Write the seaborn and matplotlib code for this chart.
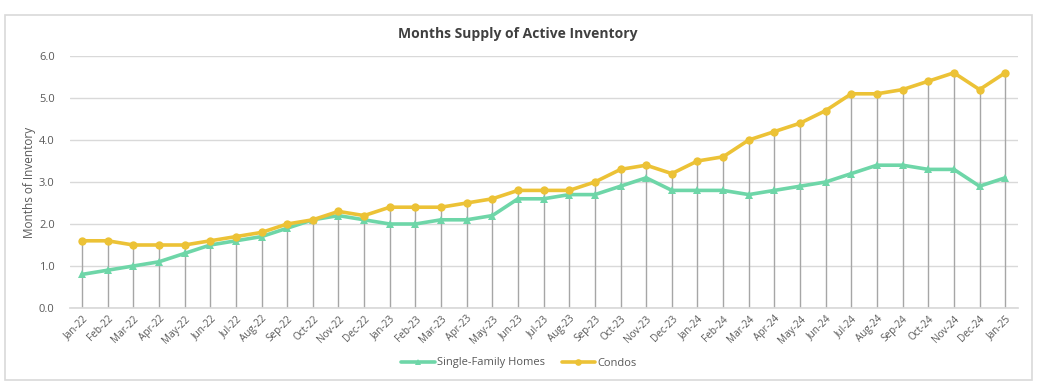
import matplotlib
matplotlib.use("Agg")
import matplotlib.pyplot as plt
import seaborn as sns
import pandas as pd
import numpy as np
from matplotlib.patches import Rectangle

months = ["Jan-22","Feb-22","Mar-22","Apr-22","May-22","Jun-22","Jul-22","Aug-22","Sep-22","Oct-22","Nov-22","Dec-22",
          "Jan-23","Feb-23","Mar-23","Apr-23","May-23","Jun-23","Jul-23","Aug-23","Sep-23","Oct-23","Nov-23","Dec-23",
          "Jan-24","Feb-24","Mar-24","Apr-24","May-24","Jun-24","Jul-24","Aug-24","Sep-24","Oct-24","Nov-24","Dec-24",
          "Jan-25"]
sfh = [0.8,0.9,1.0,1.1,1.3,1.5,1.6,1.7,1.9,2.1,2.2,2.1,
       2.0,2.0,2.1,2.1,2.2,2.6,2.6,2.7,2.7,2.9,3.1,2.8,
       2.8,2.8,2.7,2.8,2.9,3.0,3.2,3.4,3.4,3.3,3.3,2.9,
       3.1]
condos = [1.6,1.6,1.5,1.5,1.5,1.6,1.7,1.8,2.0,2.1,2.3,2.2,
          2.4,2.4,2.4,2.5,2.6,2.8,2.8,2.8,3.0,3.3,3.4,3.2,
          3.5,3.6,4.0,4.2,4.4,4.7,5.1,5.1,5.2,5.4,5.6,5.2,
          5.6]

sns.set_theme(style="white")
plt.rcParams['font.family'] = ['Open Sans', 'DejaVu Sans']

GREEN = "#6ED6A8"
YELLOW = "#ECC236"
TXT = "#595959"

fig = plt.figure(figsize=(10.38, 3.82), dpi=100)
fig.patches.append(Rectangle((5/1038, 2/382), 1027/1038, 365/382, transform=fig.transFigure,
                             fill=False, edgecolor="#D9D9D9", linewidth=1.2))
ax = fig.add_axes([70/1038, 1-308/382, 948/1038, 252/382])

idx = np.arange(len(months))
df = pd.DataFrame({"idx": np.concatenate([idx, idx]),
                   "value": sfh + condos,
                   "series": ["Single-Family Homes"]*len(months) + ["Condos"]*len(months)})

# drop lines
tops = np.maximum(sfh, condos)
ax.vlines(idx, 0, tops, color="#A6A6A6", linewidth=1.0, zorder=1)

sns.lineplot(data=df, x="idx", y="value", hue="series", style="series",
             palette={"Single-Family Homes": GREEN, "Condos": YELLOW},
             markers={"Single-Family Homes": "^", "Condos": "o"},
             dashes=False, markersize=6, markeredgewidth=0, linewidth=2.6, ax=ax, zorder=3)

ax.set_xlim(-0.47, 36.5)
ax.set_ylim(0, 6)
ax.set_yticks(np.arange(0, 6.01, 1.0))
ax.set_yticklabels([f"{v:.1f}" for v in np.arange(0, 6.01, 1.0)], fontsize=8, color=TXT)
ax.set_xticks(idx)
ax.set_xticklabels(months, rotation=45, ha="right", rotation_mode="anchor", fontsize=7.2, color=TXT)
ax.tick_params(axis="x", length=0, pad=4)
ax.tick_params(axis="y", length=0, pad=11)
ax.grid(axis="y", color="#D9D9D9", linewidth=1)
for s in ["top", "right", "left"]:
    ax.spines[s].set_visible(False)
ax.spines["bottom"].set_color("#D9D9D9")
ax.set_xlabel("")
ax.set_ylabel("Months of Inventory", fontsize=8.5, color=TXT, labelpad=2)

fig.text(518/1038, 1-34/382, "Months Supply of Active Inventory", ha="center", va="center",
         fontsize=10, fontweight="bold", color="#404040")

handles, labels = ax.get_legend_handles_labels()
ax.legend(handles, labels, loc="center", bbox_to_anchor=(0.5, 1-363/382), bbox_transform=fig.transFigure,
          ncol=2, frameon=False, fontsize=8, labelcolor=TXT, handlelength=3, columnspacing=1.5,
          handletextpad=0.2, markerscale=0.8)

fig.savefig("out.png", dpi=100)
